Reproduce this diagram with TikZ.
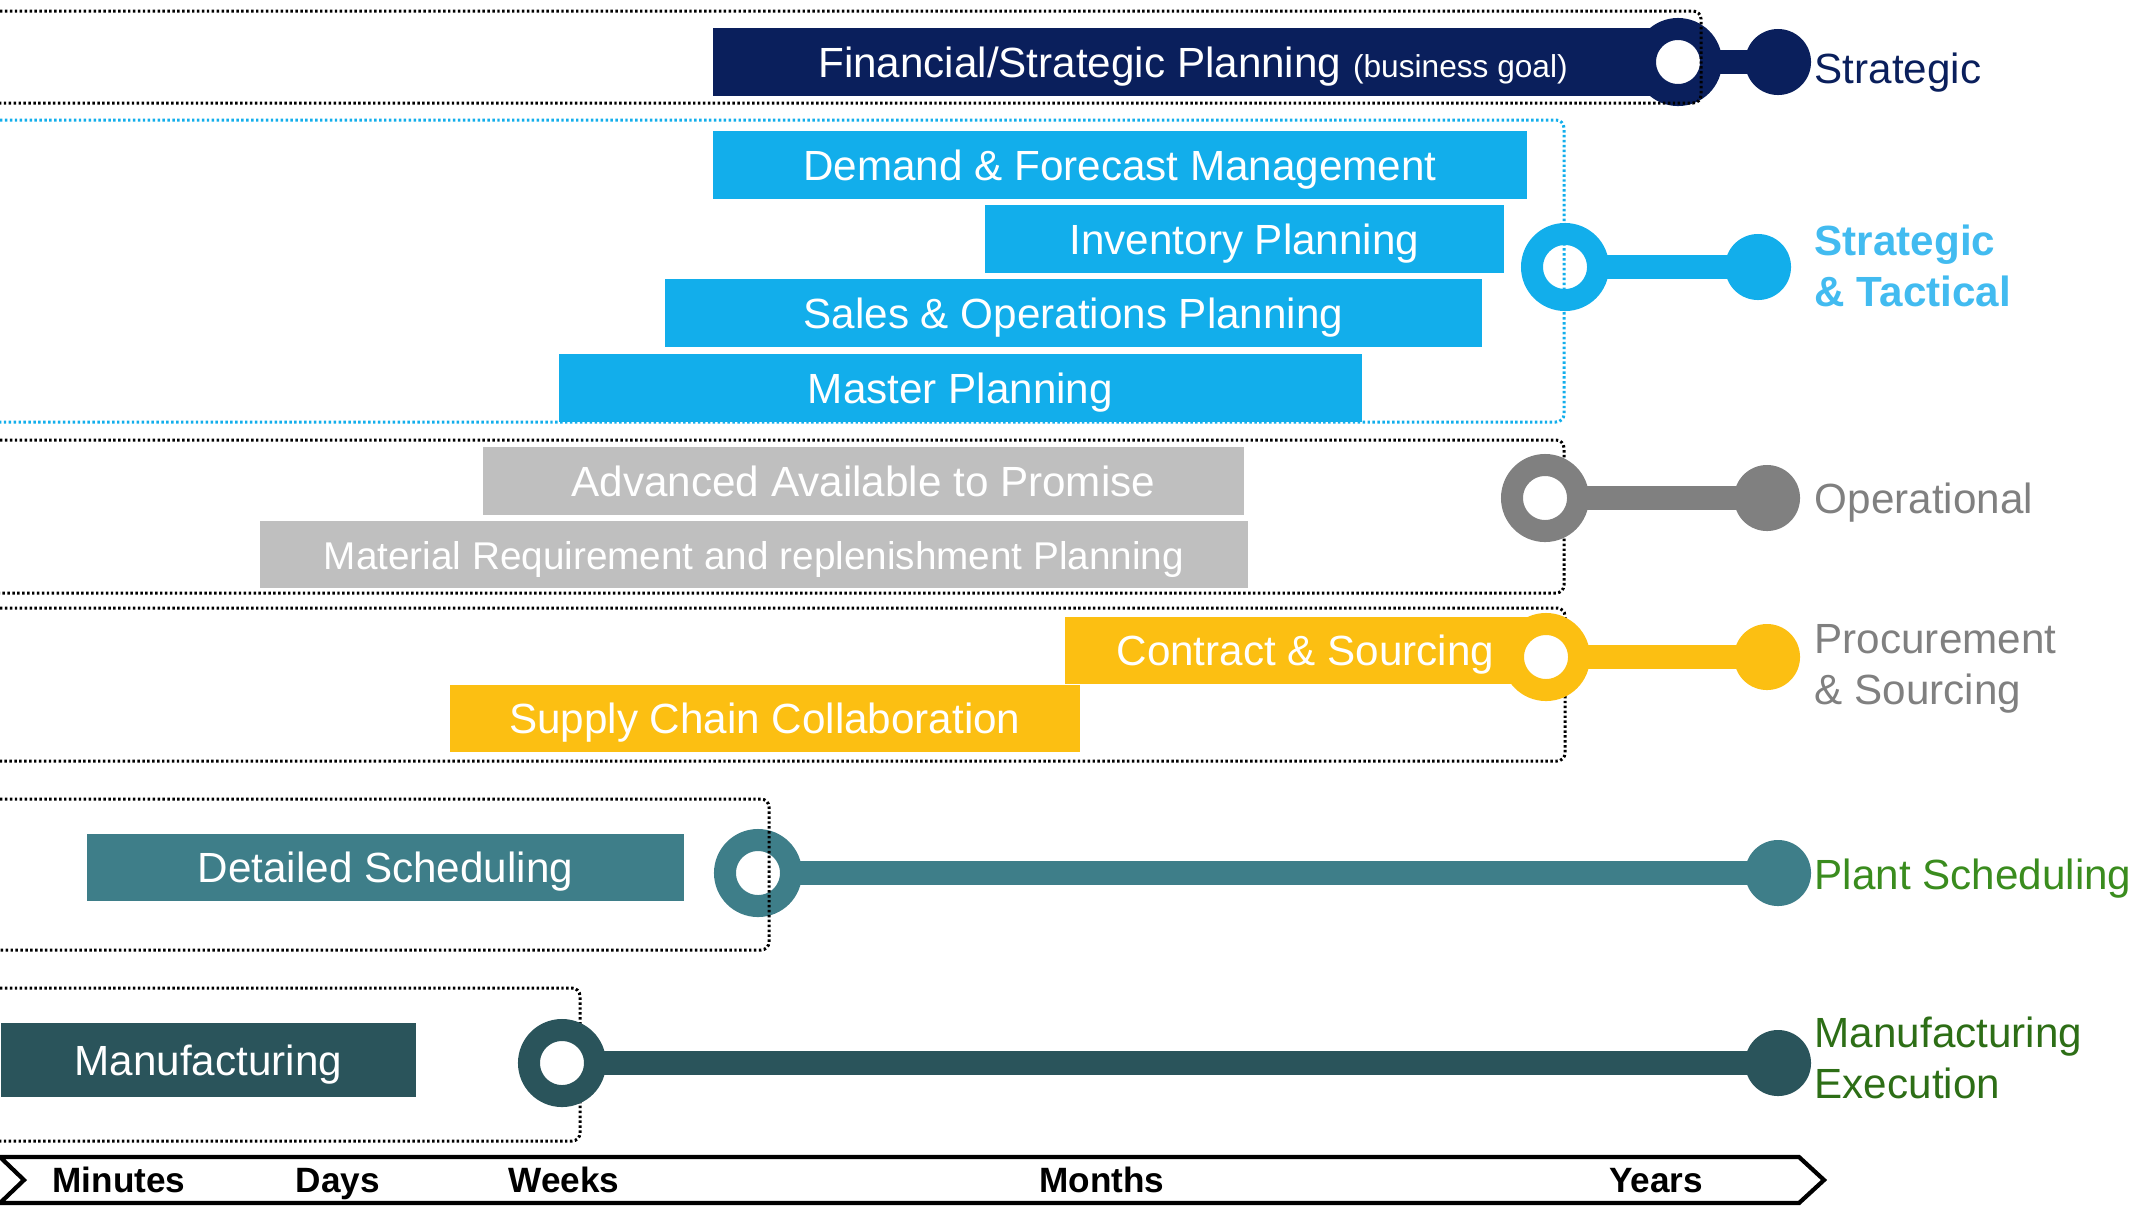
\documentclass[tikz,border=0pt]{standalone}
\usepackage{fontspec}
\setmainfont{Liberation Sans}
\usetikzlibrary{backgrounds}

\definecolor{navy}{RGB}{10,31,92}
\definecolor{sky}{RGB}{18,174,235}
\definecolor{skytext}{RGB}{66,187,240}
\definecolor{opbox}{RGB}{191,191,191}
\definecolor{opdark}{RGB}{128,128,128}
\definecolor{amber}{RGB}{252,191,18}
\definecolor{tealbox}{RGB}{62,126,137}
\definecolor{darkteal}{RGB}{42,84,91}
\definecolor{plantgreen}{RGB}{58,140,30}
\definecolor{mesgreen}{RGB}{45,110,22}

\begin{document}
\begin{tikzpicture}[x=0.01cm, y=-0.01cm,
    task/.style={rectangle, inner sep=0pt, minimum height=0.67cm, text height=8.6pt, text depth=0pt, anchor=west, text=white, font=\fontsize{12}{14}\selectfont},
    startring/.style={circle, draw=#1, fill=white, line width=0.22cm, minimum size=0.66cm, inner sep=0pt},
    enddot/.style={circle, fill=#1, minimum size=0.66cm, inner sep=0pt},
    linkbar/.style={draw=#1, line width=0.24cm},
    groupframe/.style={dash pattern=on 0.7pt off 0.7pt, line width=0.85pt, rounded corners=0.08cm},
    tierlabel/.style={anchor=base west, align=left, inner sep=0pt, font=\fontsize{12}{14.3}\selectfont},
    ticklabel/.style={anchor=base, font=\bfseries\fontsize{10}{11}\selectfont}]
    \useasboundingbox (0,0) rectangle (2134,1208);

    % planning boxes
    \node[task, fill=navy, minimum width=9.6cm] (fin) at (712,62) {Financial/Strategic Planning {\fontsize{9}{10}\selectfont (business goal)}};

    \node[task, fill=sky, minimum width=8.14cm] (dfm) at (712,165) {Demand \& Forecast Management};
    \node[task, fill=sky, minimum width=5.19cm] (inv) at (984,239) {Inventory Planning};
    \node[task, fill=sky, minimum width=8.17cm] (sop) at (664,313) {Sales \& Operations Planning};
    \node[task, fill=sky, minimum width=8.03cm] (mp) at (558,388) {Master Planning};

    \node[task, fill=opbox, minimum width=7.61cm] (aatp) at (482,481) {Advanced Available to Promise};
    \node[task, fill=opbox, minimum width=9.88cm, font=\fontsize{11}{13}\selectfont] (mrp) at (259,554) {Material Requirement and replenishment Planning};

    \node[task, fill=amber, minimum width=4.81cm] (cs) at (1064,650) {Contract \& Sourcing};
    \node[task, fill=amber, minimum width=6.30cm] (scc) at (449,718) {Supply Chain Collaboration};

    \node[task, fill=tealbox, minimum width=5.97cm] (ds) at (86,867) {Detailed Scheduling};

    \node[task, fill=darkteal, minimum width=4.15cm, minimum height=0.74cm] (mfg) at (0,1060) {Manufacturing};

    % horizon markers
    \node[startring=navy] (r1) at (1678,62) {};
    \node[enddot=navy] (d1) at (1778,62) {};
    \node[startring=sky] (r2) at (1565,267) {};
    \node[enddot=sky] (d2) at (1758,267) {};
    \node[startring=opdark] (r3) at (1545,498) {};
    \node[enddot=opdark] (d3) at (1767,498) {};
    \node[startring=amber] (r4) at (1546,657) {};
    \node[enddot=amber] (d4) at (1767,657) {};
    \node[startring=tealbox] (r5) at (758,873) {};
    \node[enddot=tealbox] (d5) at (1778,873) {};
    \node[startring=darkteal] (r6) at (562,1063) {};
    \node[enddot=darkteal] (d6) at (1778,1063) {};

    \node[tierlabel, text=navy] (t1) at (1814,83) {Strategic};
    \node[tierlabel, text=skytext, font=\bfseries\fontsize{12}{14.5}\selectfont] (t2) at (1814,306) {Strategic\\\& Tactical};
    \node[tierlabel, text=opdark] (t3) at (1814,513) {Operational};
    \node[tierlabel, text=opdark] (t4) at (1814,704) {Procurement\\\& Sourcing};
    \node[tierlabel, text=plantgreen] (t5) at (1814,889) {Plant Scheduling};
    \node[tierlabel, text=mesgreen] (t6) at (1814,1098) {Manufacturing\\Execution};

    \begin{scope}[on background layer]
        \draw[linkbar=navy] (r1.center) -- (d1.center);
        \draw[linkbar=sky] (r2.center) -- (d2.center);
        \draw[linkbar=opdark] (r3.center) -- (d3.center);
        \draw[linkbar=amber] (r4.center) -- (d4.center);
        \draw[linkbar=tealbox] (r5.center) -- (d5.center);
        \draw[linkbar=darkteal] (r6.center) -- (d6.center);
        \draw[groupframe] (0,440) -| (1564,593) -- (0,593);
        \draw[groupframe] (0,608) -| (1565,761) -- (0,761);
        \draw[groupframe] (0,988) -| (580,1141) -- (0,1141);
    \end{scope}
    \draw[groupframe] (0,11) -| (1701,103) -- (0,103);
    \draw[groupframe, draw=sky] (0,120) -| (1564,422) -- (0,422);
    \draw[groupframe] (0,799) -| (769,950) -- (0,950);

    % time scale
    \draw[line width=1.2pt, fill=white] (0,1157) -- (1799,1157) -- (1824,1180) -- (1799,1203) -- (0,1203) -- (24,1180) -- cycle;
    \node[ticklabel] (minutes) at (119,1192) {Minutes};
    \node[ticklabel] (days) at (338,1192) {Days};
    \node[ticklabel] (weeks) at (564,1192) {Weeks};
    \node[ticklabel] (months) at (1102,1192) {Months};
    \node[ticklabel] (years) at (1656,1192) {Years};
\end{tikzpicture}
\end{document}
